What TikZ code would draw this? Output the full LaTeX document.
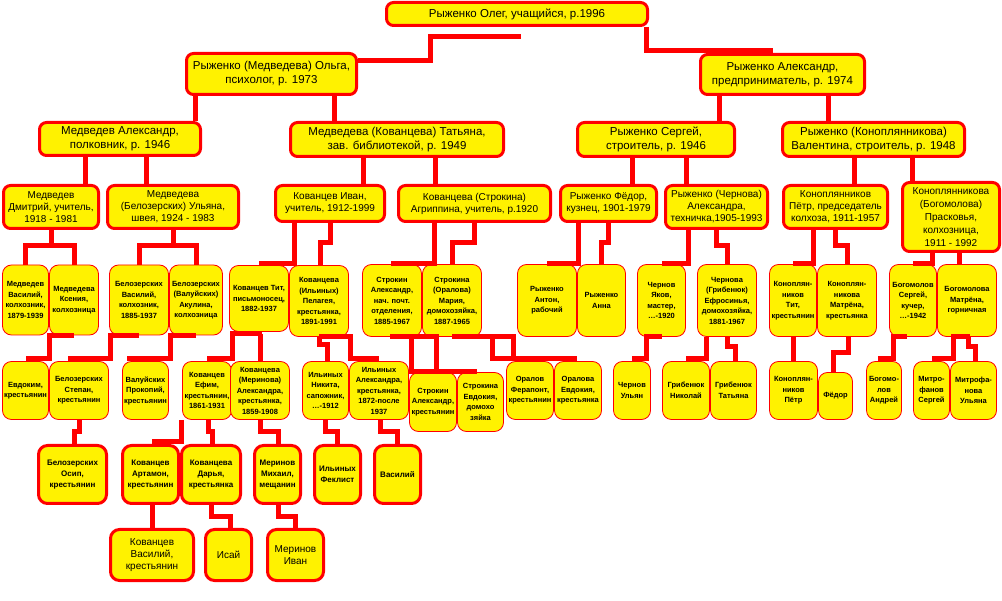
\documentclass[tikz,border=0pt]{standalone}
\usepackage{fontspec}
\setmainfont{Liberation Sans}
\begin{document}
\begin{tikzpicture}[x=1pt, y=-1pt,
  gen node/.style={draw=red, fill=yellow, line width=3pt, rounded corners=7pt, align=center, inner sep=1pt},
  mid node/.style={gen node, font=\fontsize{10}{12}\selectfont},
  old node/.style={gen node, line width=0.8pt, rounded corners=9pt, font=\bfseries\fontsize{7.5}{10.5}\selectfont},
  far node/.style={gen node, rounded corners=9pt, font=\bfseries\fontsize{8}{11}\selectfont},
  low node/.style={gen node, rounded corners=9pt, font=\fontsize{10}{12}\selectfont},
  boxsize/.style 2 args={minimum width=#1pt, minimum height=#2pt},
  link/.style={draw=red, line width=5pt}]
  \tikzstyle{every node}=[font=\fontsize{11.5}{14}\selectfont]
  \useasboundingbox (0,0) rectangle (1002,601);
  \fill[white] (0,0) rectangle (1002,601);

  % generations 0-2
  \node[gen node, boxsize={261}{23}] (oleg) at (517,14) {Рыженко Олег, учащийся, р.1996};
  \node[gen node, boxsize={170}{41}] (olga) at (271.5,74) {Рыженко (Медведева) Ольга,\\психолог, р. 1973};
  \node[gen node, boxsize={164}{40}] (alex) at (782.5,74.5) {Рыженко Александр,\\предприниматель, р. 1974};
  \node[gen node, boxsize={161}{33}] (medA) at (120,139) {Медведев Александр,\\полковник, р. 1946};
  \node[gen node, boxsize={213}{34}] (tat) at (397,139.5) {Медведева (Кованцева) Татьяна,\\зав. библиотекой, р. 1949};
  \node[gen node, boxsize={157}{34}] (serg) at (656,139.5) {Рыженко Сергей,\\строитель, р. 1946};
  \node[gen node, boxsize={182}{34}] (val) at (873.5,139.5) {Рыженко (Коноплянникова)\\Валентина, строитель, р. 1948};

  % generation 3
  \node[mid node, boxsize={95}{43}] (dmit) at (51,207) {Медведев\\Дмитрий, учитель,\\1918 - 1981};
  \node[mid node, boxsize={131}{43}] (ulya) at (173,207) {Медведева\\(Белозерских) Ульяна,\\швея, 1924 - 1983};
  \node[mid node, boxsize={109}{36}] (ivan) at (330,203.5) {Кованцев Иван,\\учитель, 1912-1999};
  \node[mid node, boxsize={152}{36}] (agr) at (474.5,203.5) {Кованцева (Строкина)\\Агриппина, учитель, р.1920};
  \node[mid node, boxsize={96}{36}] (fed) at (608.5,203.5) {Рыженко Фёдор,\\кузнец, 1901-1979};
  \node[mid node, boxsize={102}{43}] (alch) at (716.5,207) {Рыженко (Чернова)\\Александра,\\техничка,1905-1993};
  \node[mid node, boxsize={104}{43}] (petr) at (835.5,207) {Коноплянников\\Пётр, председатель\\колхоза, 1911-1957};
  \node[mid node, boxsize={97}{69}, font=\fontsize{10}{13}\selectfont] (prask) at (951,217) {Коноплянникова\\(Богомолова)\\Прасковья,\\колхозница,\\1911 - 1992};

  % generation 4
  \node[old node, boxsize={46}{70}] (vasM) at (25.5,300) {Медведев\\Василий,\\колхозник,\\1879-1939};
  \node[old node, boxsize={49}{70}] (ksen) at (74,300) {Медведева\\Ксения,\\колхозница};
  \node[old node, boxsize={59}{70}] (vasB) at (139,300) {Белозерских\\Василий,\\колхозник,\\1885-1937};
  \node[old node, boxsize={53}{70}] (akul) at (196,300) {Белозерских\\(Валуйских)\\Акулина,\\колхозница};
  \node[old node, boxsize={59}{66}] (titK) at (259,298.5) {Кованцев Тит,\\письмоносец,\\1882-1937};
  \node[old node, boxsize={59}{71}] (pel) at (319,301) {Кованцева\\(Ильиных)\\Пелагея,\\крестьянка,\\1891-1991};
  \node[old node, boxsize={59}{72}] (strA) at (392,300.5) {Строкин\\Александр,\\нач. почт.\\отделения,\\1885-1967};
  \node[old node, boxsize={59}{72}] (mar) at (452,300.5) {Строкина\\(Оралова)\\Мария,\\домохозяйка,\\1887-1965};
  \node[old node, boxsize={59}{72}] (ant) at (547,300.5) {Рыженко\\Антон,\\рабочий};
  \node[old node, boxsize={48}{72}] (anna) at (601.5,300.5) {Рыженко\\Анна};
  \node[old node, boxsize={48}{72}] (yak) at (661.5,300.5) {Чернов\\Яков,\\мастер,\\…-1920};
  \node[old node, boxsize={59}{72}] (efr) at (727,300.5) {Чернова\\(Грибенюк)\\Ефросинья,\\домохозяйка,\\1881-1967};
  \node[old node, boxsize={47}{72}] (titKn) at (793,300.5) {Коноплян-\\ников\\Тит,\\крестьянин};
  \node[old node, boxsize={59}{72}] (matK) at (847,300.5) {Коноплян-\\никова\\Матрёна,\\крестьянка};
  \node[old node, boxsize={47}{72}] (sergB) at (913,300.5) {Богомолов\\Сергей,\\кучер,\\…-1942};
  \node[old node, boxsize={59}{72}] (matB) at (967,300.5) {Богомолова\\Матрёна,\\горничная};

  % generation 5
  \node[old node, boxsize={46}{58}] (evd) at (25.5,390.5) {Евдоким,\\крестьянин};
  \node[old node, boxsize={59}{58}] (step) at (79,390.5) {Белозерских\\Степан,\\крестьянин};
  \node[old node, boxsize={46}{58}] (prok) at (145.5,390.5) {Валуйских\\Прокопий,\\крестьянин};
  \node[old node, boxsize={49}{58}] (efim) at (207,390.5) {Кованцев\\Ефим,\\крестьянин,\\1861-1931};
  \node[old node, boxsize={59}{58}] (alM) at (260,390.5) {Кованцева\\(Меринова)\\Александра,\\крестьянка,\\1859-1908};
  \node[old node, boxsize={46}{58}] (nik) at (325.5,390.5) {Ильиных\\Никита,\\сапожник,\\…-1912};
  \node[old node, boxsize={59}{58}] (alI) at (379,390.5) {Ильиных\\Александра,\\крестьянка,\\1872-после\\1937};
  \node[old node, boxsize={47}{59}] (strA2) at (433,402) {Строкин\\Александр,\\крестьянин};
  \node[old node, boxsize={46}{59}] (evdS) at (480.5,402) {Строкина\\Евдокия,\\домохо\\зяйка};
  \node[old node, boxsize={47}{58}] (fer) at (530,390.5) {Оралов\\Ферапонт,\\крестьянин};
  \node[old node, boxsize={47}{58}] (evdO) at (578,390.5) {Оралова\\Евдокия,\\крестьянка};
  \node[old node, boxsize={37}{58}] (ulyan) at (632,390.5) {Чернов\\Ульян};
  \node[old node, boxsize={47}{58}] (nikG) at (686,390.5) {Грибенюк\\Николай};
  \node[old node, boxsize={46}{58}] (tatG) at (733.5,390.5) {Грибенюк\\Татьяна};
  \node[old node, boxsize={48}{58}] (petrK) at (793.5,390.5) {Коноплян-\\ников\\Пётр};
  \node[old node, boxsize={34}{47}] (fedr) at (835.5,396) {Фёдор};
  \node[old node, boxsize={35}{58}] (andr) at (884,390.5) {Богомо-\\лов\\Андрей};
  \node[old node, boxsize={36}{58}] (sergM) at (931.5,390.5) {Митро-\\фанов\\Сергей};
  \node[old node, boxsize={46}{58}] (ulM) at (973.5,390.5) {Митрофа-\\нова\\Ульяна};

  % generations 6-7
  \node[far node, boxsize={68}{58}] (osip) at (72.5,474.5) {Белозерских\\Осип,\\крестьянин};
  \node[far node, boxsize={56}{58}] (art) at (150.5,474.5) {Кованцев\\Артамон,\\крестьянин};
  \node[far node, boxsize={59}{58}] (dar) at (211,474.5) {Кованцева\\Дарья,\\крестьянка};
  \node[far node, boxsize={46}{58}] (mih) at (277.5,474.5) {Меринов\\Михаил,\\мещанин};
  \node[far node, boxsize={46}{58}] (fek) at (337.5,474.5) {Ильиных\\Феклист};
  \node[far node, boxsize={46}{58}] (vasI) at (397.5,474.5) {Василий};
  \node[low node, boxsize={83}{51}] (vasK) at (152,555) {Кованцев\\Василий,\\крестьянин};
  \node[low node, boxsize={46}{51}] (isai) at (228.5,555) {Исай};
  \node[low node, boxsize={56}{51}] (ivM) at (295.5,555) {Меринов\\Иван};

  % links 0-3
  \draw[link] ([xshift=129]oleg.south) |- ([xshift=-9.5,yshift=2]alex.north);
  \draw[link] ([yshift=13]olga.east) -| ++(72,-24) -- ++(91,0);
  \draw[link] ([xshift=-76.5]olga.south) -- ([xshift=75]medA.north);
  \draw[link] ([xshift=62.5]olga.south) -- ([xshift=-63]tat.north);
  \draw[link] ([xshift=-63.5]alex.south) -- ([xshift=63]serg.north);
  \draw[link] ([xshift=45.5]alex.south) -- ([xshift=-45.5]val.north);
  \draw[link] ([xshift=-35]medA.south) -- ([xshift=34]dmit.north);
  \draw[link] ([xshift=26]medA.south) -- ([xshift=-27]ulya.north);
  \draw[link] ([xshift=-34]tat.south) -- ([xshift=33]ivan.north);
  \draw[link] ([xshift=38]tat.south) -- ([xshift=-39.5]agr.north);
  \draw[link] ([xshift=-24]serg.south) -- ([xshift=23.5]fed.north);
  \draw[link] ([xshift=30]serg.south) -- ([xshift=-30.5]alch.north);
  \draw[link] ([xshift=-19.5]val.south) -- ([xshift=18.5]petr.north);
  \draw[link] ([xshift=38.5]val.south) -- ([xshift=-39]prask.north);

  % links 3-4
  \draw[link] (dmit.south) -- ++(0,16) coordinate (dm);
  \draw[link] (vasM.north) |- (dm) -| (ksen.north);
  \draw[link] (ulya.south) -- ++(0,16) coordinate (ul);
  \draw[link] (vasB.north) |- (ul) -| (akul.north);
  \draw[link] ([xshift=-36]ivan.south) |- ([yshift=2]titK.north);
  \draw[link] (ivan.south) -- ++(0,20) -| ([xshift=1]pel.north);
  \draw[link] ([xshift=-40.5]agr.south) |- ([xshift=-1,yshift=1]strA.north);
  \draw[link] (agr.south) -- ++(0,20) -| (mar.north);
  \draw[link] ([xshift=-30.5]fed.south) |- ([yshift=1]ant.north);
  \draw[link] (fed.south) -- ++(0,20) -| (anna.north);
  \draw[link] ([xshift=-28.5]alch.south) |- ([yshift=1]yak.north);
  \draw[link] (alch.south) -- ++(0,16) -| (efr.north);
  \draw[link] ([xshift=-22.5]petr.south) |- ([yshift=1]titKn.north);
  \draw[link] (petr.south) -- ++(0,16) -| (matK.north);
  \draw[link] ([xshift=-19]prask.south) |- ([yshift=1]sergB.north);
  \draw[link] ([xshift=8]prask.south) -- ([xshift=-8]matB.north);

  % links 4-5
  \draw[link] (ksen.south) -- ++(-25,0) |- ([yshift=3]evd.north);
  \draw[link] (vasB.south) -- ++(-29,0) |- ([xshift=-11,yshift=3]step.north);
  \draw[link] (akul.south) -- ++(-26,0) |- ([xshift=-18.5,yshift=3]prok.north);
  \draw[link] ([xshift=3,yshift=-2]titK.south) -- ++(-30,0) |- ([yshift=3]efim.north);
  \draw[link] ([xshift=1,yshift=-2]titK.south) -- (alM.north);
  \draw[link] (pel.south) -- ++(0,8) -| ([xshift=1.5]nik.north);
  \draw[link] (pel.south) -- ++(31,0) |- ([yshift=3]alI.north);
  \draw[link] ([xshift=-2]strA.south) -- ([xshift=-16]mar.south) -- ([xshift=3]strA2.north);
  \draw[link] ([xshift=19]strA.south) |- ([xshift=-3.5,yshift=1]evdS.north);
  \draw[link] ([xshift=40]mar.south) |- ([xshift=-1,yshift=3]evdO.north);
  \draw[link] (mar.south) -- ++(61,0) -- ++(0,21);
  \draw[link] (yak.south) -- ++(-15,0) |- ([yshift=3]ulyan.north);
  \draw[link] ([xshift=-21]efr.south) |- ([yshift=3]nikG.north);
  \draw[link] (efr.south) -- ++(0,10) -| ([xshift=1.5]tatG.north);
  \draw[link] ([xshift=0.5]titKn.south) -- (petrK.north);
  \draw[link] ([xshift=1]matK.south) -- ++(0,16) -| ([xshift=-2.5]fedr.north);
  \draw[link] ([xshift=-6]sergB.south) -- ++(-14,0) |- ([xshift=-6,yshift=3]andr.north);
  \draw[link] ([xshift=3]matB.south) -- ++(-17,0) |- ([yshift=3]sergM.north);
  \draw[link] ([xshift=1]matB.south) -- ++(0,10) -| ([xshift=1.5]ulM.north);

  % links 5-7
  \draw[link] (step.south) -- ++(0,12) -| ([xshift=1.5]osip.north);
  \draw[link] ([xshift=-26]efim.south) |- ([xshift=1.5,yshift=2]art.north);
  \draw[link] ([xshift=1]efim.south) -- ++(0,12) -| ([xshift=1]dar.north);
  \draw[link] (alM.south) -- ++(0,12) -| ([xshift=0.5]mih.north);
  \draw[link] (nik.south) -- ++(0,12) -| (fek.north);
  \draw[link] ([xshift=1]alI.south) -- ++(0,12) -| (vasI.north);
  \draw[link] ([xshift=1.5]art.south) -- (vasK.north);
  \draw[link] (dar.south) -- ++(0,12) -| ([xshift=1.5]isai.north);
  \draw[link] ([xshift=0.5]mih.south) -- ++(0,12) -| (ivM.north);
\end{tikzpicture}
\end{document}
